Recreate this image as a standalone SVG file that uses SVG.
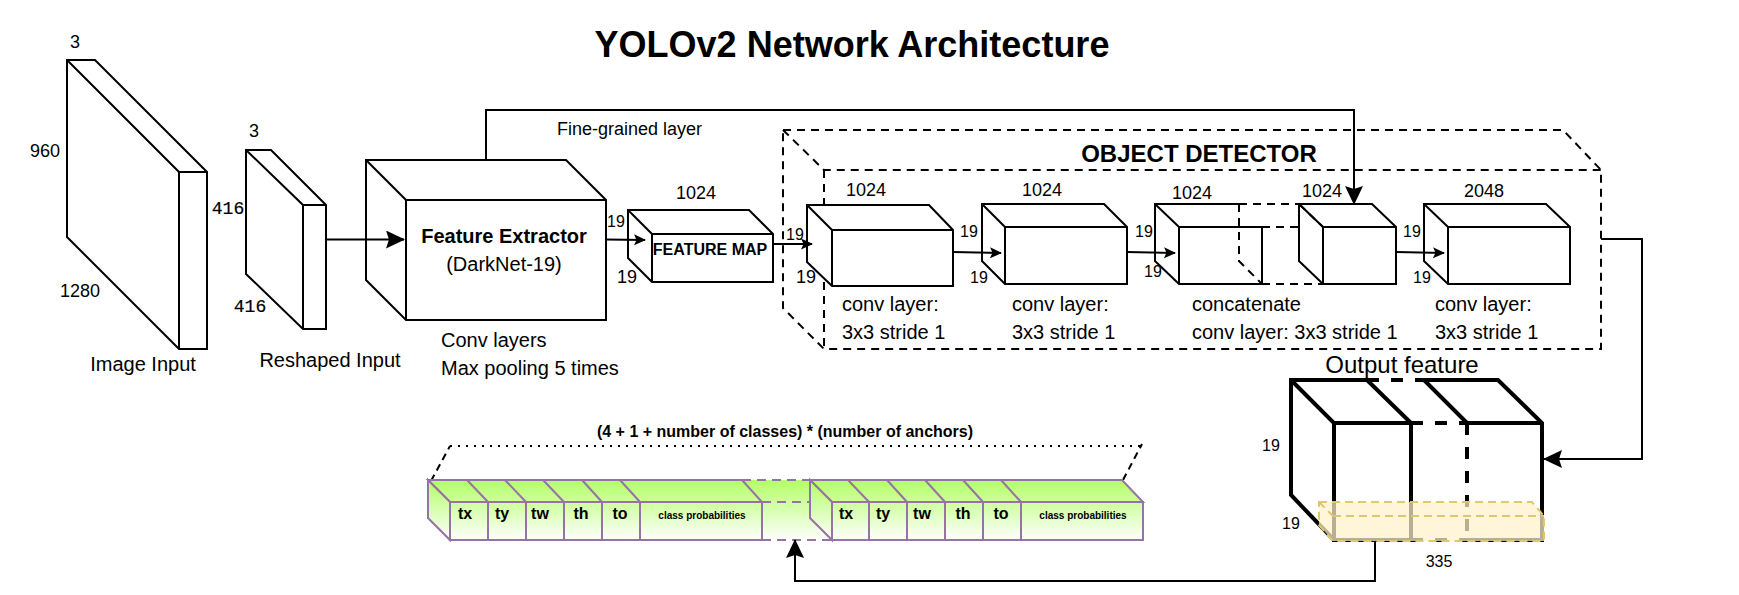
<svg xmlns="http://www.w3.org/2000/svg" width="1739" height="595" viewBox="0 0 1739 595">
<style>
text{font-family:"Liberation Sans",Arial,sans-serif;fill:#000}
.b{fill:#fff;stroke:#000;stroke-width:2}
.t16{font-size:16px}.t18{font-size:18px}.t20{font-size:20px}.bold{font-weight:bold}
.m{text-anchor:middle}
.mono{font-family:"Liberation Mono",monospace;font-size:18px;stroke:#000;stroke-width:.2}
.line{fill:none;stroke:#000;stroke-width:2}
.dash{fill:none;stroke:#000;stroke-width:2;stroke-dasharray:8 6}
.thick{fill:none;stroke:#000;stroke-width:4}
.strip{fill:url(#g);stroke:#9673a6;stroke-width:2}
.sd{fill:none;stroke:#9673a6;stroke-width:2;stroke-dasharray:9 6}
.div{fill:none;stroke:#9673a6;stroke-width:2}
.lab{font-size:16px;font-weight:bold}
.cp{font-size:10px;font-weight:bold}
</style>
<defs>
<linearGradient id="g" gradientUnits="userSpaceOnUse" x1="0" y1="480" x2="0" y2="541"><stop offset="0" stop-color="#b3ff66"/><stop offset="1" stop-color="#ffffff"/></linearGradient>
<marker id="a" markerWidth="22" markerHeight="22" refX="18" refY="9" orient="auto" markerUnits="userSpaceOnUse"><path d="M0 0L19 9L0 18L3 9Z" fill="#000"/></marker>
<marker id="s" markerWidth="14" markerHeight="14" refX="11" refY="5.500" orient="auto" markerUnits="userSpaceOnUse"><path d="M0 0L12 5.500L0 11L2.500 5.500Z" fill="#000"/></marker>
</defs>
<text x="852" y="57" class="bold m" font-size="36">YOLOv2 Network Architecture</text>
<g id="image-input">
<path class="b" d="M67 60H95L207 172V349H179L67 237Z"/><path class="line" d="M67 60L179 172V349M179 172H207"/>
<text x="75" y="48" class="t18 m">3</text><text x="45" y="157" class="t18 m">960</text><text x="80" y="297" class="t18 m">1280</text><text x="143" y="371" class="t20 m">Image Input</text>
</g>
<g id="reshaped-input">
<path class="b" d="M246 150H271L326 205V329H303L246 274Z"/><path class="line" d="M246 150L303 205V329M303 205H326"/>
<text x="254" y="137" class="t18 m">3</text><text x="228" y="214" class="mono m">416</text><text x="250" y="312" class="mono m">416</text><text x="330" y="367" class="t20 m">Reshaped Input</text>
</g>
<g id="feature-extractor">
<path class="b" d="M366 160H566L606 200V320H406L366 280Z"/><path class="line" d="M366 160L406 200V320M406 200H606"/>
<text x="504" y="243" class="t20 bold m">Feature Extractor</text><text x="504" y="271" class="t20 m">(DarkNet-19)</text>
<text x="441" y="347" class="t20">Conv layers</text><text x="441" y="375" class="t20">Max pooling 5 times</text>
</g>
<g id="feature-map">
<path class="b" d="M628 210H749L773 234V282H652L628 258Z"/><path class="line" d="M628 210L652 234V282M652 234H773"/>
<text x="710" y="255" class="t16 bold m">FEATURE MAP</text><text x="696" y="199" class="t18 m">1024</text><text x="616" y="227" class="t16 m">19</text><text x="627" y="283" class="t18 m">19</text>
</g>
<g id="object-detector">
<path class="dash" d="M783 130H1563L1601 170V349H824L783 308ZM783 130L824 170H1601M824 170V349"/>
<text x="1199" y="162" class="bold m" font-size="24">OBJECT DETECTOR</text>
</g>
<g id="conv-1">
<path class="b" d="M807 205H929L953 230V286H832L807 262Z"/><path class="line" d="M807 205L832 230V286M832 230H953"/>
<text x="866" y="196" class="t18 m">1024</text><text x="795" y="240" class="t16 m">19</text><text x="806" y="283" class="t18 m">19</text>
<text x="842" y="311" class="t20">conv layer:</text><text x="842" y="339" class="t20">3x3 stride 1</text>
</g>
<g id="conv-2">
<path class="b" d="M982 204H1104L1127 227V284H1005L982 261Z"/><path class="line" d="M982 204L1005 227V284M1005 227H1127"/>
<text x="1042" y="196" class="t18 m">1024</text><text x="969" y="237" class="t16 m">19</text><text x="979" y="283" class="t16 m">19</text>
<text x="1012" y="311" class="t20">conv layer:</text><text x="1012" y="339" class="t20">3x3 stride 1</text>
</g>
<g id="concat">
<path class="line" d="M1239 204H1155V261L1179 284H1262V227H1179L1155 204M1179 227V284"/>
<path class="dash" d="M1239 204H1299M1262 227H1323M1262 284H1323M1239 204V261L1262 284"/>
<path class="b" d="M1299 204H1372L1396 227V284H1323L1299 261Z"/><path class="line" d="M1299 204L1323 227V284M1323 227H1396"/><path class="dash" stroke-width="3" d="M1323 227V284M1299 204L1323 227"/>
<text x="1192" y="199" class="t18 m">1024</text><text x="1322" y="197" class="t18 m">1024</text><text x="1144" y="237" class="t16 m">19</text><text x="1153" y="277" class="t16 m">19</text>
<text x="1192" y="311" class="t20">concatenate</text><text x="1192" y="339" class="t20">conv layer: 3x3 stride 1</text>
</g>
<g id="conv-3">
<path class="b" d="M1424 204H1546L1570 227V284H1448L1424 261Z"/><path class="line" d="M1424 204L1448 227V284M1448 227H1570"/>
<text x="1484" y="197" class="t18 m">2048</text><text x="1412" y="237" class="t16 m">19</text><text x="1422" y="283" class="t16 m">19</text>
<text x="1435" y="311" class="t20">conv layer:</text><text x="1435" y="339" class="t20">3x3 stride 1</text>
</g>
<g id="output-feature">
<text x="1402" y="373" class="m" font-size="24">Output feature</text>
<path class="thick" d="M1367 380H1291V495L1334 540M1291 380L1334 423V540H1411V423H1334M1367 380L1411 423"/>
<path class="thick" d="M1424 380H1498L1542 423V540H1467M1424 380L1467 423H1542"/>
<path class="thick" stroke-dasharray="12 12" d="M1367 380H1424M1411 423H1467M1467 423V540M1411 540H1467"/>
<path d="M1319 502H1532L1544 516V541H1333L1319 525Z" fill="#fff2cc" fill-opacity=".72" stroke="#e0c66e" stroke-width="2" stroke-dasharray="8 5"/>
<path d="M1333 516H1544M1319 502L1333 516" fill="none" stroke="#e0c66e" stroke-width="2" stroke-dasharray="8 5"/>
<text x="1271" y="451" class="t16 m">19</text><text x="1291" y="529" class="t16 m">19</text><text x="1439" y="567" class="t16 m">335</text>
</g>
<g id="prediction">
<text x="785" y="437" class="bold m" font-size="16">(4 + 1 + number of classes) * (number of anchors)</text>
<path d="M450 446H1141" fill="none" stroke="#000" stroke-width="2" stroke-dasharray="2 6"/>
<path d="M431 481L450 446M1123 480L1142 444" fill="none" stroke="#000" stroke-width="2" stroke-dasharray="7 5"/>
<path d="M742 480H810L832 502V540H762V502Z" fill="url(#g)"/>
<path class="sd" d="M742 480H810M762 502H810M762 540H850"/>
</g>
<g id="strip-1">
<path class="strip" d="M428 480H742L762 502H450Z"/>
<path class="strip" d="M428 480L450 502V540L428 518Z"/>
<path class="strip" d="M450 502H762V540H450Z"/>
<path class="div" d="M467 480L488 502V540M505 480L526 502V540M543 480L564 502V540M582 480L602 502V540M620 480L640 502V540"/>
<text x="465" y="519" class="lab m">tx</text><text x="502" y="519" class="lab m">ty</text><text x="540" y="519" class="lab m">tw</text><text x="581" y="519" class="lab m">th</text><text x="620" y="519" class="lab m">to</text><text x="702" y="519" class="cp m">class probabilities</text>
</g>
<g id="strip-2">
<path class="strip" d="M810 480H1122L1143 502H832Z"/>
<path class="strip" d="M810 480L832 502V540L810 518Z"/>
<path class="strip" d="M832 502H1143V540H832Z"/>
<path class="div" d="M848 480L869 502V540M887 480L907 502V540M925 480L945 502V540M963 480L983 502V540M1001 480L1021 502V540"/>
<text x="846" y="519" class="lab m">tx</text><text x="883" y="519" class="lab m">ty</text><text x="922" y="519" class="lab m">tw</text><text x="963" y="519" class="lab m">th</text><text x="1001" y="519" class="lab m">to</text><text x="1083" y="519" class="cp m">class probabilities</text>
</g>
<g id="connectors">
<text x="557" y="135" class="t18">Fine-grained layer</text>
<path class="line" marker-end="url(#a)" d="M486 160V110H1354V204"/>
<path class="line" marker-end="url(#a)" d="M326 239.500H404"/>
<path class="line" marker-end="url(#s)" d="M606 239.500L645 240"/>
<path class="line" marker-end="url(#s)" d="M773 244H812"/>
<path class="line" marker-end="url(#s)" d="M953 252L1001 253"/>
<path class="line" marker-end="url(#s)" d="M1127 252L1175 253"/>
<path class="line" marker-end="url(#s)" d="M1396 252L1444 253"/>
<path class="line" marker-end="url(#a)" d="M1601 239H1642V459H1544"/>
<path class="line" marker-end="url(#a)" d="M1375 542V581H795V540"/>
</g>
</svg>
